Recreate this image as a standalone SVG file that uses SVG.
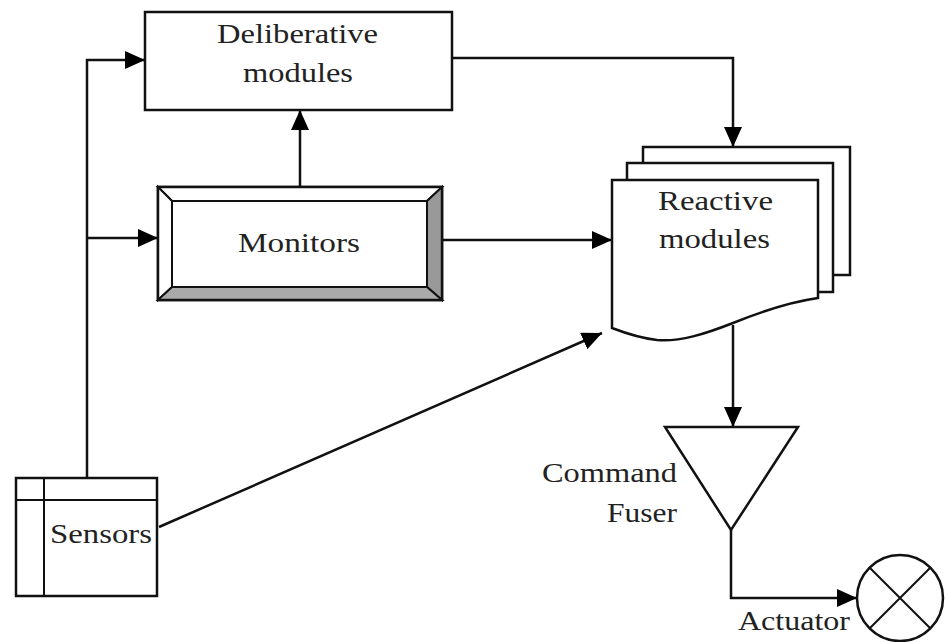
<svg xmlns="http://www.w3.org/2000/svg" width="945" height="642" viewBox="0 0 945 642">
<style>
.s{fill:none;stroke:#111;stroke-width:2.5;stroke-linejoin:miter}
.b{fill:#fff;stroke:#111;stroke-width:2.5}
.t{font-family:"Liberation Serif","Times New Roman",serif;font-size:28px;fill:#222}
</style>
<defs>
<marker id="a" markerUnits="userSpaceOnUse" markerWidth="22" markerHeight="18" refX="20" refY="9" orient="auto">
<path d="M0,0 L20,9 L0,18 Z" fill="#000"/>
</marker>
</defs>
<g id="connectors">
<path class="s" d="M87,478 L87,60 L145,60" marker-end="url(#a)"/>
<path class="s" d="M87,238 L158,238" marker-end="url(#a)"/>
<path class="s" d="M300,187 L300,110" marker-end="url(#a)"/>
<path class="s" d="M452,58 L733,58 L733,147" marker-end="url(#a)"/>
<path class="s" d="M442,240 L612,240" marker-end="url(#a)"/>
<path class="s" d="M159,527 L602,333" marker-end="url(#a)"/>
<path class="s" d="M733,325 L733,427" marker-end="url(#a)"/>
<path class="s" d="M731,530 L731,598 L857,598" marker-end="url(#a)"/>
</g>
<g id="deliberative">
<rect class="b" x="145" y="12" width="307" height="98"/>
<text class="t" x="217" y="43" textLength="161" lengthAdjust="spacingAndGlyphs">Deliberative</text>
<text class="t" x="243" y="82" textLength="110" lengthAdjust="spacingAndGlyphs">modules</text>
</g>
<g id="monitors">
<rect class="b" x="158" y="187" width="284" height="113"/>
<path d="M158,187 L442,187 L427,201 L172,201 Z" fill="#fff" stroke="#111" stroke-width="2"/>
<path d="M158,187 L172,201 L172,287 L158,300 Z" fill="#fff" stroke="#111" stroke-width="2"/>
<path d="M442,187 L442,300 L427,287 L427,201 Z" fill="#999" stroke="#111" stroke-width="2"/>
<path d="M158,300 L442,300 L427,287 L172,287 Z" fill="#aaa" stroke="#111" stroke-width="2"/>
<rect x="158" y="187" width="284" height="113" fill="none" stroke="#111" stroke-width="2.5"/>
<text class="t" x="238" y="252" textLength="122" lengthAdjust="spacingAndGlyphs">Monitors</text>
</g>
<g id="reactive">
<rect class="b" x="643" y="147" width="207" height="128"/>
<rect class="b" x="627" y="163" width="206" height="129"/>
<path class="b" d="M612,180 L818,180 L818,298 C790,302 765,310 733,323 C705,334 680,342 657,340 C640,338 625,333 612,328 Z"/>
<text class="t" x="658" y="210" textLength="115" lengthAdjust="spacingAndGlyphs">Reactive</text>
<text class="t" x="659" y="248" textLength="111" lengthAdjust="spacingAndGlyphs">modules</text>
</g>
<g id="fuser">
<path class="b" d="M665,427 L798,427 L731,530 Z" stroke-width="2"/>
<text class="t" x="542" y="482" textLength="135" lengthAdjust="spacingAndGlyphs">Command</text>
<text class="t" x="607" y="522" textLength="70" lengthAdjust="spacingAndGlyphs">Fuser</text>
</g>
<g id="actuator">
<circle class="b" cx="900" cy="598" r="43" stroke-width="2"/>
<path d="M870,568 L930,628 M930,568 L870,628" stroke="#111" stroke-width="2"/>
<text class="t" x="738" y="630" textLength="112" lengthAdjust="spacingAndGlyphs">Actuator</text>
</g>
<g id="sensors">
<rect class="b" x="16" y="478" width="141" height="118" stroke-width="2"/>
<path d="M44,478 L44,596 M16,500 L157,500" stroke="#111" stroke-width="2"/>
<text class="t" x="50" y="543" textLength="102" lengthAdjust="spacingAndGlyphs">Sensors</text>
</g>
</svg>
